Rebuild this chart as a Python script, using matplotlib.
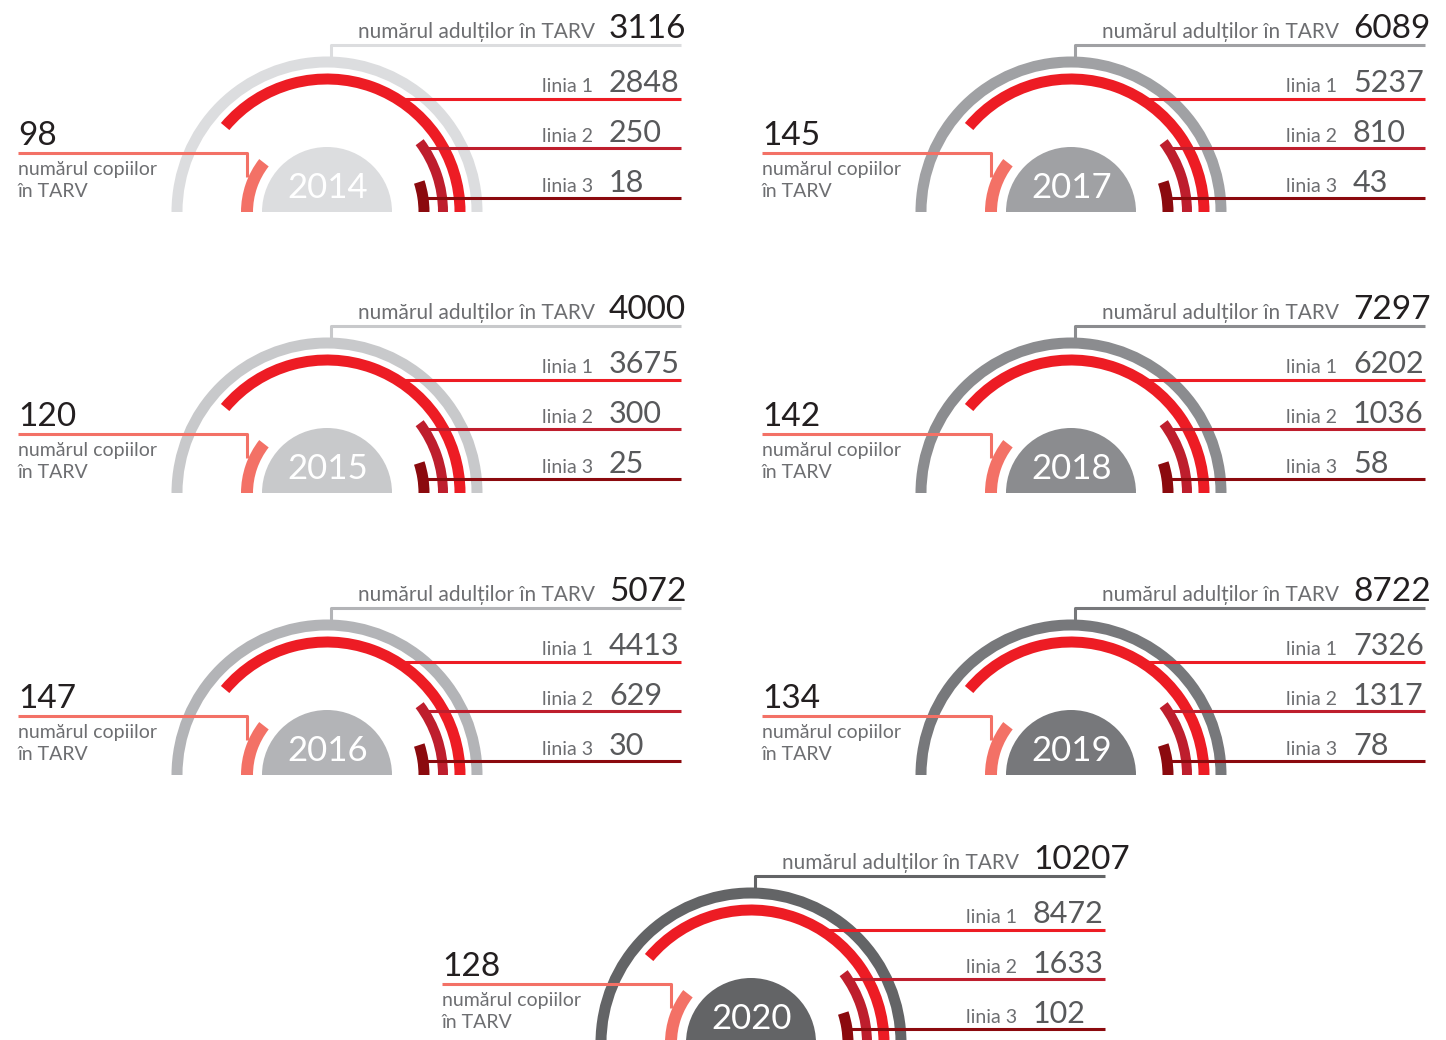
import matplotlib
matplotlib.use("Agg")
import matplotlib.pyplot as plt
from matplotlib.patches import Wedge

# date
years = ["2014", "2015", "2016", "2017", "2018", "2019", "2020"]
adults = [3116, 4000, 5072, 6089, 7297, 8722, 10207]
linia1 = [2848, 3675, 4413, 5237, 6202, 7326, 8472]
linia2 = [250, 300, 629, 810, 1036, 1317, 1633]
linia3 = [18, 25, 30, 43, 58, 78, 102]
children = [98, 120, 147, 145, 142, 134, 128]

ring_colors = ["#dcdddf", "#c8c9cb", "#b3b4b7", "#a0a1a4", "#8b8c8f", "#77787b", "#636466"]
centers = [(327, 212), (327, 493), (327, 775), (1071, 212), (1071, 493), (1071, 775), (751, 1043)]

c_l1 = "#ed1c24"
c_l2 = "#be1e2d"
c_l3 = "#8b0a0e"
c_kid = "#f37166"
c_lab = "#6d6e71"
c_num = "#231f20"
c_num2 = "#58595b"

plt.rcParams["font.family"] = ["Lato", "DejaVu Sans"]

W, H = 1446, 1040
fig = plt.figure(figsize=(W / 100, H / 100), dpi=100)
ax = fig.add_axes([0, 0, 1, 1])
ax.set_xlim(0, W)
ax.set_ylim(H, 0)
ax.axis("off")


def arc(cx, cy, r, w, a1, a2, color):
    # angles on screen (counter-clockwise), y axis is inverted
    ax.add_patch(Wedge((cx, cy), r + w / 2, -a2, -a1, width=w, color=color, lw=0))


for i in range(len(years)):
    cx, cy = centers[i]
    rc = ring_colors[i]

    # cercuri
    arc(cx, cy, 150, 11, 0, 180, rc)
    arc(cx, cy, 133, 11, 0, 140, c_l1)
    arc(cx, cy, 116, 10, 0, 37, c_l2)
    arc(cx, cy, 97, 11, 0, 18, c_l3)
    arc(cx, cy, 80, 12, 142, 180, c_kid)
    ax.add_patch(Wedge((cx, cy), 65, -180, 0, color=rc, lw=0))
    ax.text(cx + 1, cy - 14, years[i], color="white", fontsize=25, ha="center", va="baseline")

    xe = cx + 354
    xl = cx + 268
    xn = cx + 282

    # adulti
    ax.plot([cx + 4, cx + 4, xe], [cy - 155, cy - 167, cy - 167], color=rc, lw=2.2, solid_capstyle="butt")
    ax.text(xl, cy - 174, "numărul adulților în TARV", color=c_lab, fontsize=15, ha="right", va="baseline")
    ax.text(xn, cy - 174, str(adults[i]), color=c_num, fontsize=24, ha="left", va="baseline")

    # linii
    ax.plot([cx + 72, xe], [cy - 113, cy - 113], color=c_l1, lw=2.2, solid_capstyle="butt")
    ax.text(xl - 2, cy - 120, "linia 1", color=c_lab, fontsize=14, ha="right", va="baseline")
    ax.text(xn, cy - 120, str(linia1[i]), color=c_num2, fontsize=22, ha="left", va="baseline")

    ax.plot([cx + 97, xe], [cy - 64, cy - 64], color=c_l2, lw=2.2, solid_capstyle="butt")
    ax.text(xl - 2, cy - 70, "linia 2", color=c_lab, fontsize=14, ha="right", va="baseline")
    ax.text(xn, cy - 70, str(linia2[i]), color=c_num2, fontsize=22, ha="left", va="baseline")

    ax.plot([cx + 92, xe], [cy - 14, cy - 14], color=c_l3, lw=2.2, solid_capstyle="butt")
    ax.text(xl - 2, cy - 20, "linia 3", color=c_lab, fontsize=14, ha="right", va="baseline")
    ax.text(xn, cy - 20, str(linia3[i]), color=c_num2, fontsize=22, ha="left", va="baseline")

    # copii
    ax.plot([cx - 309, cx - 80, cx - 80], [cy - 59, cy - 59, cy - 35], color=c_kid, lw=2.2, solid_capstyle="butt")
    ax.text(cx - 309, cy - 67, str(children[i]), color=c_num, fontsize=24, ha="left", va="baseline")
    ax.text(cx - 309, cy - 37, "numărul copiilor", color=c_lab, fontsize=14, ha="left", va="baseline")
    ax.text(cx - 309, cy - 15, "în TARV", color=c_lab, fontsize=14, ha="left", va="baseline")

fig.savefig("out.png", dpi=100, facecolor="white")
